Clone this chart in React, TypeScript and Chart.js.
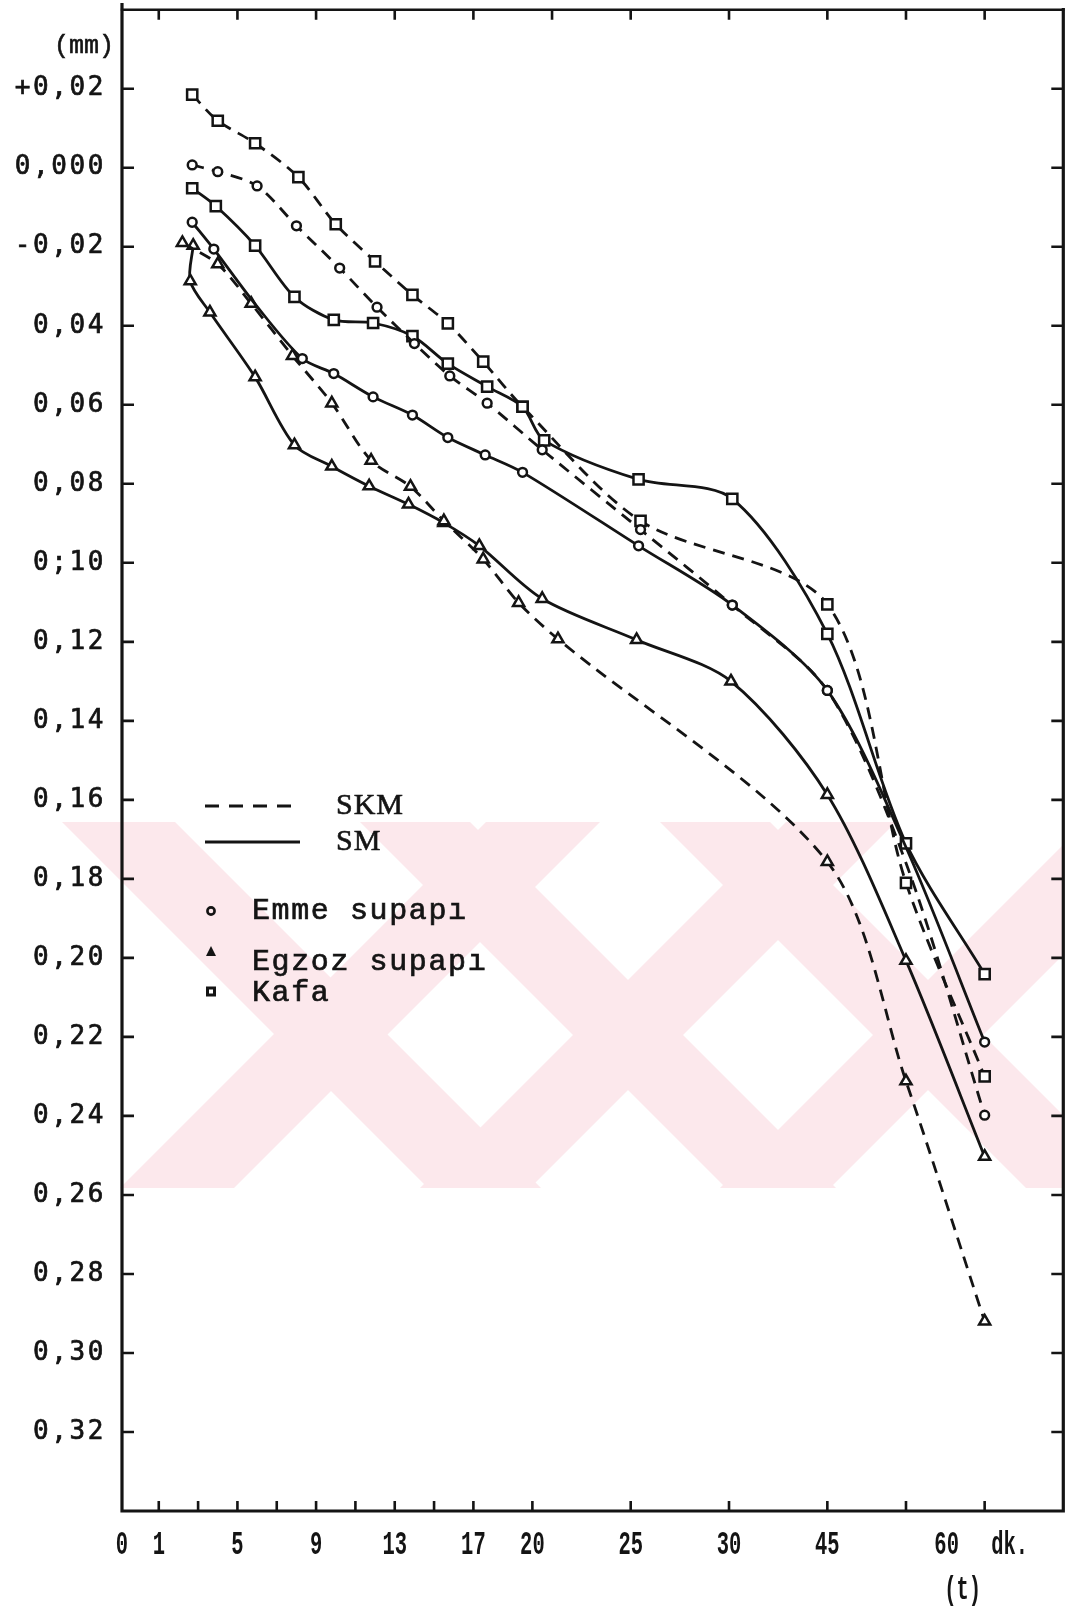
import React, { useEffect, useRef } from 'react';
import { Chart, registerables } from 'chart.js';

Chart.register(...registerables);

// Measurement times (dk.) and dimensional change (mm) for each part.
// SKM = dashed, SM = solid.
const EMME_SKM_T = [2.7, 4, 6, 8, 10.2, 12.1, 14, 15.8, 17.7, 20.5, 25.5, 30.5, 45, 52.5, 60];
const EMME_SKM_V = [0.0007, -0.001, -0.0046, -0.0147, -0.0254, -0.0353, -0.0445, -0.0527, -0.0596, -0.0714, -0.0916, -0.1107, -0.1323, -0.176, -0.2398];
const EMME_SKM_MARK = [1, 1, 1, 1, 1, 1, 1, 1, 1, 1, 1, 1, 1, 0, 1];

const EMME_SM_T = [2.7, 3.8, 5.9, 8.3, 9.9, 11.9, 13.9, 15.7, 17.6, 19.5, 25.4, 30.5, 45, 52.5, 60];
const EMME_SM_V = [-0.0138, -0.0206, -0.0345, -0.0483, -0.0521, -0.058, -0.0626, -0.0683, -0.0727, -0.0771, -0.0957, -0.1107, -0.1323, -0.172, -0.2213];
const EMME_SM_MARK = [1, 1, 0, 1, 1, 1, 1, 1, 1, 1, 1, 1, 1, 0, 1];

const EGZOZ_SKM_T = [2.2, 4, 5.7, 7.8, 9.8, 11.8, 13.8, 15.5, 17.5, 19.3, 21.3, 45, 52.5, 60];
const EGZOZ_SKM_V = [-0.019, -0.0244, -0.0344, -0.0476, -0.0596, -0.0741, -0.0807, -0.0894, -0.0991, -0.1101, -0.1193, -0.1757, -0.2312, -0.292];

const EGZOZ_SM_T = [2.75, 2.6, 3.6, 5.9, 7.9, 9.8, 11.7, 13.7, 15.5, 17.3, 20.5, 25.3, 30.3, 45, 52.5, 60];
const EGZOZ_SM_V = [-0.0197, -0.0287, -0.0366, -0.053, -0.0702, -0.0756, -0.0806, -0.0852, -0.0899, -0.0957, -0.1091, -0.1195, -0.13, -0.1587, -0.2007, -0.2503];

const KAFA_SKM_T = [2.7, 4, 5.9, 8.1, 10, 12, 13.9, 15.7, 17.5, 19.5, 25.5, 45, 52.5, 60];
const KAFA_SKM_V = [0.0185, 0.0119, 0.0062, -0.0024, -0.0143, -0.0237, -0.0322, -0.0394, -0.0491, -0.0605, -0.0894, -0.1105, -0.181, -0.23];

const KAFA_SM_T = [2.7, 3.9, 5.9, 7.9, 9.9, 11.9, 13.9, 15.7, 17.7, 19.5, 20.6, 25.4, 30.5, 45, 52.5, 60];
const KAFA_SM_V = [-0.0052, -0.0097, -0.0197, -0.0327, -0.0385, -0.0393, -0.0426, -0.0496, -0.0554, -0.0605, -0.069, -0.0789, -0.0838, -0.118, -0.171, -0.2041];

// Axis ticks
const Y_TICKS = [0.02, 0, -0.02, -0.04, -0.06, -0.08, -0.1, -0.12, -0.14, -0.16, -0.18, -0.2, -0.22, -0.24, -0.26, -0.28, -0.3, -0.32];
const Y_TICK_LABELS = ['+0,02', '0,000', '-0,02', '0,04', '0,06', '0,08', '0;10', '0,12', '0,14', '0,16', '0,18', '0,20', '0,22', '0,24', '0,26', '0,28', '0,30', '0,32'];
const X_TICK_MARKS = [1, 3, 5, 7, 9, 11, 13, 15, 17, 20, 25, 30, 45, 52.5, 60];
const X_TOP_MARKS = [1, 5, 9, 13, 17, 21, 25, 30, 45, 52.5, 60];
const X_TICK_LABELS = ['1', '5', '9', '13', '17', '20', '25', '30', '45'];
const X_TICK_VALUES = [1, 5, 9, 13, 17, 20, 25, 30, 45];

const LEGEND_PARTS = ['Emme supapı', 'Egzoz supapı', 'Kafa'];
const LEGEND_LINES = ['SKM', 'SM'];

// The time axis is linear up to 30 dk. and compressed beyond it.
function axisPos(t: number): number {
  if (t <= 30) return t;
  if (t <= 45) return 30 + (t - 30) / 3;
  return 35 + ((t - 45) * 8) / 15;
}

const INK = '#141414';
const FONT_SANS_MONO = '"DejaVu Sans Mono", monospace';
const FONT_TYPE = '"Liberation Mono", "Courier New", monospace';
const FONT_SERIF = '"Liberation Serif", "Times New Roman", serif';

type Series = {
  label: string;
  t: number[];
  v: number[];
  mark?: number[];
  style: 'circle' | 'triangle' | 'rect';
  dashed: boolean;
};

const SERIES: Series[] = [
  { label: 'Emme supapı SKM', t: EMME_SKM_T, v: EMME_SKM_V, mark: EMME_SKM_MARK, style: 'circle', dashed: true },
  { label: 'Emme supapı SM', t: EMME_SM_T, v: EMME_SM_V, mark: EMME_SM_MARK, style: 'circle', dashed: false },
  { label: 'Egzoz supapı SKM', t: EGZOZ_SKM_T, v: EGZOZ_SKM_V, style: 'triangle', dashed: true },
  { label: 'Egzoz supapı SM', t: EGZOZ_SM_T, v: EGZOZ_SM_V, style: 'triangle', dashed: false },
  { label: 'Kafa SKM', t: KAFA_SKM_T, v: KAFA_SKM_V, style: 'rect', dashed: true },
  { label: 'Kafa SM', t: KAFA_SM_T, v: KAFA_SM_V, style: 'rect', dashed: false },
];

const MARKER_RADIUS = { circle: 4.4, triangle: 6.4, rect: 7.2 };

function drawText(
  ctx: CanvasRenderingContext2D,
  text: string,
  x: number,
  y: number,
  font: string,
  align: CanvasTextAlign,
  scaleX = 1,
  spacing = 0,
  weight = 0
) {
  ctx.save();
  ctx.font = font;
  (ctx as any).letterSpacing = spacing + 'px';
  ctx.textAlign = align;
  ctx.textBaseline = 'middle';
  ctx.fillStyle = INK;
  ctx.strokeStyle = INK;
  ctx.translate(x, y);
  ctx.scale(scaleX, 1);
  ctx.fillText(text, 0, 0);
  if (weight > 0) {
    ctx.lineWidth = weight;
    ctx.strokeText(text, 0, 0);
  }
  ctx.restore();
}

const decor = {
  id: 'decor',
  beforeDraw(chart: Chart) {
    const ctx = chart.ctx;
    ctx.save();
    ctx.fillStyle = '#ffffff';
    ctx.fillRect(0, 0, chart.width, chart.height);

    // faint pink watermark band of diagonal bars
    const y0 = 822;
    const y1 = 1188;
    const h = y1 - y0;
    ctx.fillStyle = '#fce8ec';
    const bar = (a: number, b: number, dir: number) => {
      ctx.beginPath();
      ctx.moveTo(a, y0);
      ctx.lineTo(b, y0);
      ctx.lineTo(b + dir * h, y1);
      ctx.lineTo(a + dir * h, y1);
      ctx.closePath();
      ctx.fill();
    };
    ctx.beginPath();
    ctx.rect(58, y0, 1062 - 58, h);
    ctx.clip();
    bar(62, 175, 1);
    bar(486, 600, -1);
    bar(360, 470, 1);
    bar(786, 896, -1);
    bar(660, 770, 1);
    bar(1086, 1196, -1);
    ctx.restore();
  },
  afterDraw(chart: Chart) {
    const ctx = chart.ctx;
    const { left, right, top, bottom } = chart.chartArea;
    const xs = chart.scales.x;
    const ys = chart.scales.y;

    ctx.save();
    ctx.strokeStyle = INK;
    ctx.lineCap = 'square';

    // frame
    ctx.lineWidth = 3.2;
    ctx.beginPath();
    ctx.moveTo(left, top - 5);
    ctx.lineTo(left, bottom);
    ctx.lineTo(right, bottom);
    ctx.lineTo(right, top);
    ctx.stroke();
    ctx.lineWidth = 2.4;
    ctx.beginPath();
    ctx.moveTo(left, top);
    ctx.lineTo(right, top);
    ctx.stroke();

    // tick marks
    ctx.lineWidth = 2.6;
    ctx.lineCap = 'butt';
    ctx.beginPath();
    Y_TICKS.forEach((v) => {
      const y = ys.getPixelForValue(v);
      ctx.moveTo(left, y);
      ctx.lineTo(left + 12, y);
      ctx.moveTo(right, y);
      ctx.lineTo(right - 12, y);
    });
    X_TICK_MARKS.forEach((t) => {
      const x = xs.getPixelForValue(axisPos(t));
      ctx.moveTo(x, bottom);
      ctx.lineTo(x, bottom - 10);
    });
    X_TOP_MARKS.forEach((t) => {
      const x = xs.getPixelForValue(axisPos(t));
      ctx.moveTo(x, top);
      ctx.lineTo(x, top + 10);
    });
    ctx.stroke();

    // y labels
    const yFont = `26px ${FONT_SANS_MONO}`;
    Y_TICKS.forEach((v, i) => {
      drawText(ctx, Y_TICK_LABELS[i], 106, ys.getPixelForValue(v), yFont, 'right', 1, 2.6, 0.7);
    });
    drawText(ctx, '(mm)', 84, 46, `25px ${FONT_TYPE}`, 'center', 1, 0, 0.6);

    // x labels
    const xFont = `bold 33px ${FONT_TYPE}`;
    const ly = bottom + 35;
    drawText(ctx, '0', left, ly, xFont, 'center', 0.62);
    X_TICK_VALUES.forEach((t, i) => {
      drawText(ctx, X_TICK_LABELS[i], xs.getPixelForValue(axisPos(t)), ly, xFont, 'center', 0.62);
    });
    const x60 = xs.getPixelForValue(axisPos(60));
    drawText(ctx, '60', x60 - 38, ly, xFont, 'center', 0.62);
    drawText(ctx, 'dk.', x60 + 25, ly, xFont, 'center', 0.62);
    drawText(ctx, '(t)', x60 - 22, bottom + 80, xFont, 'center', 0.62);

    // legend: line styles
    ctx.lineWidth = 2.8;
    ctx.setLineDash([14, 10]);
    ctx.beginPath();
    ctx.moveTo(205, 806);
    ctx.lineTo(300, 806);
    ctx.stroke();
    ctx.setLineDash([]);
    ctx.beginPath();
    ctx.moveTo(205, 842);
    ctx.lineTo(300, 842);
    ctx.stroke();
    drawText(ctx, LEGEND_LINES[0], 336, 806, `30px ${FONT_SERIF}`, 'left', 1, 1, 0.6);
    drawText(ctx, LEGEND_LINES[1], 336, 842, `30px ${FONT_SERIF}`, 'left', 1, 1, 0.6);

    // legend: markers
    ctx.lineWidth = 2.6;
    ctx.fillStyle = INK;
    ctx.beginPath();
    ctx.arc(211, 911, 3.6, 0, Math.PI * 2);
    ctx.stroke();
    ctx.beginPath();
    ctx.moveTo(211, 946);
    ctx.lineTo(216, 956);
    ctx.lineTo(206, 956);
    ctx.closePath();
    ctx.fill();
    ctx.lineWidth = 3;
    ctx.strokeRect(207.5, 988, 7, 7);

    const lFont = `30px ${FONT_TYPE}`;
    drawText(ctx, LEGEND_PARTS[0], 252, 911, lFont, 'left', 1, 1.6, 0.7);
    drawText(ctx, LEGEND_PARTS[1], 252, 962, lFont, 'left', 1, 1.6, 0.7);
    drawText(ctx, LEGEND_PARTS[2], 252, 993, lFont, 'left', 1, 1.6, 0.7);
    ctx.restore();
  },
};

export default function App() {
  const canvasRef = useRef<HTMLCanvasElement>(null);

  useEffect(() => {
    const canvas = canvasRef.current;
    if (!canvas) return;

    const datasets = SERIES.map((s) => ({
      label: s.label,
      data: s.t.map((t, i) => ({ x: axisPos(t), y: s.v[i] })),
      borderColor: INK,
      borderWidth: 2.8,
      borderDash: s.dashed ? [12, 8] : [],
      tension: 0.3,
      fill: false,
      clip: false as any,
      pointStyle: s.style,
      pointRadius: s.t.map((_, i) => (s.mark && !s.mark[i] ? 0 : MARKER_RADIUS[s.style])),
      pointBorderWidth: 2.5,
      pointBackgroundColor: '#ffffff',
      pointBorderColor: INK,
    }));

    const chart = new Chart(canvas, {
      type: 'line',
      data: { datasets },
      options: {
        animation: false,
        responsive: false,
        events: [],
        layout: { padding: { left: 122, right: 9, top: 5, bottom: 99 } },
        plugins: { legend: { display: false }, tooltip: { enabled: false } },
        scales: {
          x: { type: 'linear', display: false, min: -0.87, max: 47 },
          y: { type: 'linear', display: false, min: -0.34, max: 0.04 },
        },
      },
      plugins: [decor],
    });

    return () => chart.destroy();
  }, []);

  return (
    <div style={{ position: 'absolute', left: 0, top: 0, width: 1073, height: 1610, background: '#ffffff' }}>
      <canvas ref={canvasRef} width={1073} height={1610} style={{ display: 'block', width: 1073, height: 1610 }} />
    </div>
  );
}
